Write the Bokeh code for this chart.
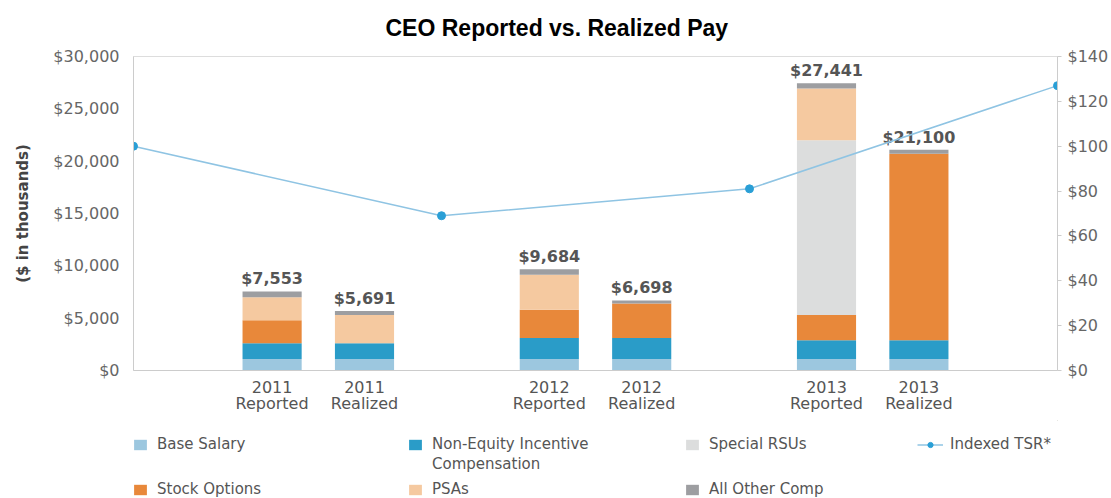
from bokeh.plotting import figure
from bokeh.layouts import column
from bokeh.models import (Range1d, LinearAxis, FixedTicker, NumeralTickFormatter,
                          ColumnDataSource, Legend, LegendItem)
from bokeh.embed import file_html
from bokeh.resources import INLINE
from bokeh.core.properties import value

# ---------------- data ----------------
categories = ["2011\nReported", "2011\nRealized", "2012\nReported",
              "2012\nRealized", "2013\nReported", "2013\nRealized"]
base_salary = [1100, 1100, 1100, 1100, 1100, 1100]
non_equity = [1500, 1500, 2000, 2000, 1800, 1800]
stock_options = [2200, 0, 2700, 3300, 2400, 17800]
special_rsus = [0, 0, 0, 0, 16700, 0]
psas = [2200, 2700, 3350, 0, 4950, 0]
all_other = [553, 391, 534, 298, 491, 400]
totals = [7553, 5691, 9684, 6698, 27441, 21100]
tsr_points = ["2010", "2011", "2012", "2013"]
tsr = [100, 69, 81, 127]
left_ticks = [0, 5000, 10000, 15000, 20000, 25000, 30000]
right_ticks = [0, 20, 40, 60, 80, 100, 120, 140]

series = ["base_salary", "non_equity", "stock_options", "special_rsus", "psas", "all_other"]
series_labels = ["Base Salary", "Non-Equity Incentive\nCompensation", "Stock Options",
                 "Special RSUs", "PSAs", "All Other Comp"]
tsr_label = "Indexed TSR*"
colors = ["#9cc7df", "#2a9cc8", "#e8883a", "#dcdddd", "#f5c9a0", "#9d9ea1"]
tsr_line_color = "#8fc4e3"
tsr_dot_color = "#2a9fd6"

# positions: 3 groups of 2 bars
bar_x = [3 * (i // 2) + 1.5 + (i % 2) for i in range(len(categories))]
tsr_x = [i * 10 / 3 for i in range(len(tsr))]
total_text = ["${:,}".format(t) for t in totals]

src = ColumnDataSource(dict(x=bar_x, base_salary=base_salary, non_equity=non_equity,
                            stock_options=stock_options, special_rsus=special_rsus,
                            psas=psas, all_other=all_other, totals=totals, label=total_text))

FONT = "DejaVu Sans"
TXT = "#555555"
W = 1111

p = figure(width=W, height=420, x_range=Range1d(0, 10), y_range=Range1d(0, 30000),
           output_backend="svg", toolbar_location=None,
           min_border_left=133, min_border_right=53, min_border_top=55, min_border_bottom=50)
p.xgrid.visible = False
p.ygrid.visible = False
p.outline_line_color = "#dddddd"

# title
p.title.text = "CEO Reported vs. Realized Pay"
p.title.align = "left"
p.title.offset = 252
p.title.vertical_align = "top"
p.title.text_font = "Liberation Sans"
p.title.text_font_size = "23px"
p.title.text_font_style = "bold"
p.title.text_color = "black"
p.title.standoff = 28

# left axis
ya = p.yaxis[0]
ya.ticker = FixedTicker(ticks=left_ticks)
ya.formatter = NumeralTickFormatter(format="$0,0")
ya.major_tick_line_color = None
ya.minor_tick_line_color = None
ya.axis_line_color = "#cccccc"
ya.major_label_text_font = FONT
ya.major_label_text_font_size = "16px"
ya.major_label_text_color = "#666666"
ya.major_label_standoff = 8
ya.axis_label = "($ in thousands)"
ya.axis_label_text_font = FONT
ya.axis_label_text_font_size = "15px"
ya.axis_label_text_font_style = "bold"
ya.axis_label_text_color = "#444444"
ya.axis_label_standoff = 18

# x axis
xa = p.xaxis[0]
xa.ticker = FixedTicker(ticks=bar_x)
xa.major_label_overrides = {x: c for x, c in zip(bar_x, categories)}
xa.major_tick_line_color = None
xa.minor_tick_line_color = None
xa.axis_line_color = "#cccccc"
xa.major_label_text_font = FONT
xa.major_label_text_font_size = "16px"
xa.major_label_text_color = TXT
xa.major_label_text_line_height = 0.85
xa.major_label_standoff = 1

# right axis
p.extra_y_ranges = {"tsr": Range1d(0, 140)}
ra = LinearAxis(y_range_name="tsr", ticker=FixedTicker(ticks=right_ticks),
                formatter=NumeralTickFormatter(format="$0"))
ra.major_tick_line_color = "#cccccc"
ra.major_tick_out = 4
ra.major_tick_in = 0
ra.minor_tick_line_color = None
ra.axis_line_color = "#cccccc"
ra.major_label_text_font = FONT
ra.major_label_text_font_size = "16px"
ra.major_label_text_color = "#666666"
ra.major_label_standoff = 6
p.add_layout(ra, "right")

# stacked bars
bars = p.vbar_stack(series, x="x", width=0.64, source=src, color=colors, line_color=None)

# totals
p.text(x="x", y="totals", text="label", source=src, text_align="center",
       text_baseline="bottom", y_offset=-3, text_font=value(FONT),
       text_font_style="bold", text_font_size="16px", text_color=TXT)

# TSR line
p.line(tsr_x, tsr, y_range_name="tsr", line_color=tsr_line_color, line_width=1.5)
p.scatter(tsr_x, tsr, y_range_name="tsr", size=8, fill_color=tsr_dot_color,
          line_color=tsr_dot_color)

# ---------------- legend panel ----------------
lg = figure(width=W, height=78, x_range=Range1d(0, 1), y_range=Range1d(0, 1),
            output_backend="svg", toolbar_location=None,
            x_axis_location=None, y_axis_location=None,
            min_border_left=0, min_border_right=0, min_border_top=0, min_border_bottom=0)
lg.grid.visible = False
lg.outline_line_color = None

# off-screen proxies (one point each, outside the visible range) for the legend swatches
dummy = [lg.vbar(x=[5], top=[5], bottom=[4], width=0.1, color=c, line_color=None) for c in colors]
blank = lg.vbar(x=[5], top=[5], bottom=[4], width=0.1, fill_alpha=0, line_alpha=0)
d_line = lg.line(x=[5, 6], y=[5, 5], line_color=tsr_line_color, line_width=1.5)
d_dot = lg.scatter(x=[5], y=[5], size=7, fill_color=tsr_dot_color, line_color=tsr_dot_color)


def add_legend(label, renderers, x, y, gw=16, standoff=9):
    leg = Legend(items=[LegendItem(label=label, renderers=renderers)], location=(x, y),
                 orientation="vertical", padding=0, margin=0, spacing=0,
                 border_line_color=None, background_fill_alpha=0,
                 glyph_width=gw, glyph_height=13, label_height=13, label_standoff=standoff,
                 label_text_font=FONT, label_text_font_size="15px", label_text_color=TXT)
    lg.add_layout(leg)


row1 = 45
row1b = 25
row2 = 0
nei_first, nei_second = series_labels[1].split("\n")
add_legend(series_labels[0], [dummy[0]], -1, row1)
add_legend(nei_first, [dummy[1]], 274, row1)
add_legend(nei_second, [blank], 274, row1b)
add_legend(series_labels[3], [dummy[3]], 551, row1)
add_legend(tsr_label, [d_line, d_dot], 784, row1, gw=26, standoff=7)
add_legend(series_labels[2], [dummy[2]], -1, row2)
add_legend(series_labels[4], [dummy[4]], 274, row2)
add_legend(series_labels[5], [dummy[5]], 551, row2)

layout = column(p, lg, spacing=0)
open("out.html", "w").write(file_html(layout, INLINE))
